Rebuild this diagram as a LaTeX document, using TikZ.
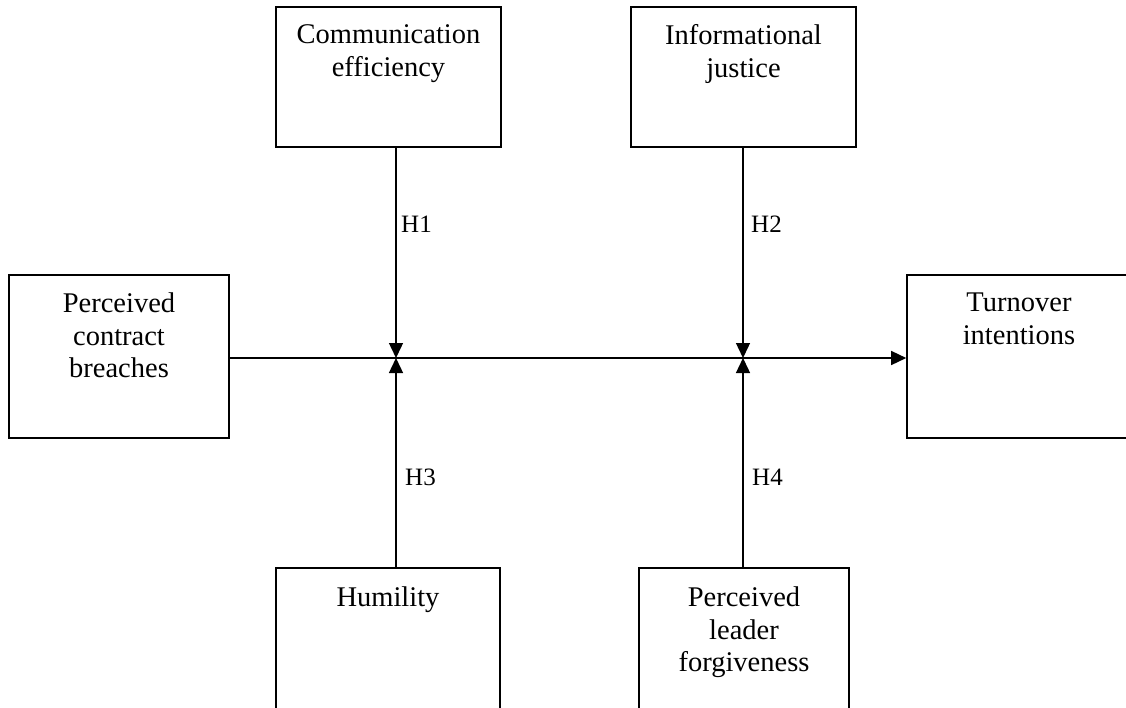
\documentclass[tikz,border=0pt]{standalone}
\usepackage{fontspec}
\setmainfont{Liberation Serif}
\usetikzlibrary{arrows.meta}
\begin{document}
\begin{tikzpicture}[x=1pt,y=-1pt,
  box/.style={draw=black, line width=1.6pt, rectangle, inner sep=0pt, minimum width=#1, fill=none},
  boxtext/.style={anchor=north, inner sep=0pt, align=center, font=\fontsize{28.5}{32.5}\selectfont},
  hlab/.style={anchor=base west, inner sep=0pt, font=\fontsize{25}{30}\selectfont},
  arr/.style={draw=black, line width=1.4pt, -{Triangle[length=15pt,width=14pt]}}]
\useasboundingbox (0,0) rectangle (1126,707);
\clip (0,0) rectangle (1126,707);
% boxes
\node[box=225pt, minimum height=140pt] (comm) at (388.5,77) {};
\node[box=225pt, minimum height=140pt] (info) at (743.5,77) {};
\node[box=220pt, minimum height=163pt] (pcb) at (119,356.5) {};
\node[box=224pt, minimum height=163pt] (turn) at (1019,356.5) {};
\node[box=224pt, minimum height=172pt] (hum) at (388,654) {};
\node[box=210pt, minimum height=172pt] (forg) at (744,654) {};
% texts
\node[boxtext] (commt) at ([yshift=-18.5pt]comm.north) {Communication\\efficiency};
\node[boxtext] (infot) at ([yshift=-18.5pt]info.north) {Informational\\justice};
\node[boxtext] (pcbt) at ([yshift=-18.5pt]pcb.north) {Perceived\\contract\\breaches};
\node[boxtext] (turnt) at ([yshift=-18.5pt]turn.north) {Turnover\\intentions};
\node[boxtext] (humt) at ([yshift=-19.5pt]hum.north) {Humility};
\node[boxtext] (forgt) at ([yshift=-19.5pt]forg.north) {Perceived\\leader\\forgiveness};
% junctions
\coordinate (j1) at (396,358);
\coordinate (j2) at (743,358);
% connectors
\draw[arr] (pcb.east |- j1) -- (turn.west |- j1);
\draw[arr] (comm.south -| j1) -- (j1);
\draw[arr] (hum.north -| j1) -- (j1);
\draw[arr] (info.south -| j2) -- (j2);
\draw[arr] (forg.north -| j2) -- (j2);
% labels
\node[hlab] (h1) at (401,232) {H1};
\node[hlab] (h2) at (751,232) {H2};
\node[hlab] (h3) at (405,485) {H3};
\node[hlab] (h4) at (752,485) {H4};
\end{tikzpicture}
\end{document}
